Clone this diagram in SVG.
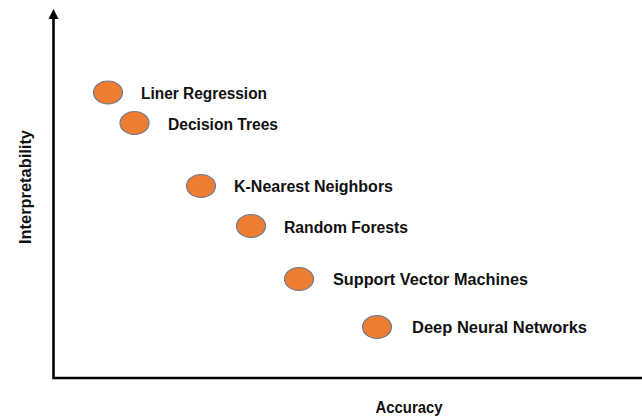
<svg xmlns="http://www.w3.org/2000/svg" width="642" height="417" viewBox="0 0 642 417">
<style>
.dot{fill:#ED7D31;stroke:#6B7A99;stroke-width:1.2}
.lbl{font-family:"Liberation Sans",Arial,sans-serif;font-weight:bold;font-size:16px;fill:#111}
.axis{stroke:#000;stroke-width:2.6;fill:none}
</style>
<g id="axes">
<path class="axis" d="M53.5,18 L53.5,378 L642,378"/>
<path d="M48.5,19 L53.5,9 L58.5,19 Z" fill="#000"/>
</g>
<g id="axis-labels">
<text class="lbl" x="409" y="413" text-anchor="middle" textLength="67" lengthAdjust="spacingAndGlyphs">Accuracy</text>
<text class="lbl" transform="translate(31,187) rotate(-90)" text-anchor="middle" textLength="114" lengthAdjust="spacingAndGlyphs">Interpretability</text>
</g>
<g id="n-linreg">
<ellipse class="dot" cx="108" cy="92.5" rx="14.5" ry="11.5"/>
<text class="lbl" x="141" y="99" textLength="126" lengthAdjust="spacingAndGlyphs">Liner Regression</text>
</g>
<g id="n-dtree">
<ellipse class="dot" cx="134.5" cy="123" rx="14.5" ry="11.5"/>
<text class="lbl" x="168" y="130" textLength="110" lengthAdjust="spacingAndGlyphs">Decision Trees</text>
</g>
<g id="n-knn">
<ellipse class="dot" cx="201" cy="186" rx="14.5" ry="11.5"/>
<text class="lbl" x="234" y="192" textLength="159" lengthAdjust="spacingAndGlyphs">K-Nearest Neighbors</text>
</g>
<g id="n-rf">
<ellipse class="dot" cx="251" cy="226" rx="14.5" ry="11.5"/>
<text class="lbl" x="284" y="233" textLength="124" lengthAdjust="spacingAndGlyphs">Random Forests</text>
</g>
<g id="n-svm">
<ellipse class="dot" cx="299" cy="279" rx="14.5" ry="11.5"/>
<text class="lbl" x="333" y="285" textLength="195" lengthAdjust="spacingAndGlyphs">Support Vector Machines</text>
</g>
<g id="n-dnn">
<ellipse class="dot" cx="377" cy="327" rx="14.5" ry="11.5"/>
<text class="lbl" x="412" y="333" textLength="175" lengthAdjust="spacingAndGlyphs">Deep Neural Networks</text>
</g>
</svg>
